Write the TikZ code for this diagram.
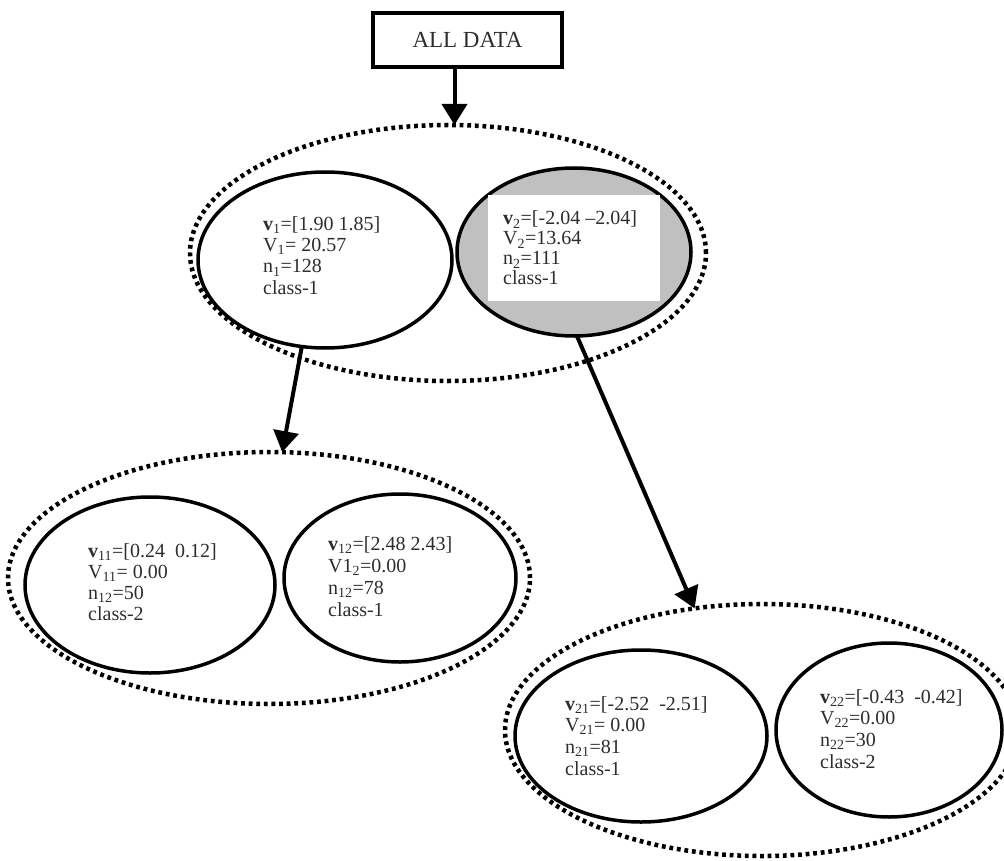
\documentclass[tikz,border=0pt]{standalone}
\usepackage{fontspec}
\setmainfont{Liberation Serif}
\usetikzlibrary{shapes.geometric,arrows.meta}
\definecolor{shade}{RGB}{192,192,192}
\definecolor{ink}{RGB}{45,45,45}
% four-line cluster summary; #1 = line spacing
\newcommand\infolines[2]{\fontsize{20}{#1}\selectfont\begin{tabular}[t]{@{}l@{}}#2\end{tabular}}

\begin{document}
\begin{tikzpicture}[x=1pt,y=-1pt,
  group/.style={ellipse, draw, line width=4.5pt, dash pattern=on 3.8pt off 3.8pt, inner sep=0pt, outer sep=0pt},
  cluster/.style={ellipse, draw, line width=3.5pt, inner sep=0pt, outer sep=0pt},
  info/.style={anchor=base west, inner sep=0pt, text=ink},
  link/.style={line width=4pt, -{Triangle[width=25pt,length=21pt]}}
]
\useasboundingbox (0,0) rectangle (1004,861);
\clip (0,0) rectangle (1004,861);

% root
\node[draw, line width=4pt, minimum width=189pt, minimum height=54pt, inner sep=0pt,
      text=ink, font=\fontsize{23}{26}\selectfont] (all) at (467.5,40) {ALL DATA};

% level 1
\node[group, minimum width=516pt, minimum height=256pt] (outer1) at (448,253) {};
\node[cluster, minimum width=254pt, minimum height=176pt] (c1) at (325,260) {};
\node[cluster, fill=shade, minimum width=234pt, minimum height=168pt] (c2) at (574,252) {};
\node[fill=white, inner sep=0pt, minimum width=172pt, minimum height=106pt] (c2card) at (574,248) {};

% level 2, left branch
\node[group, minimum width=522pt, minimum height=252pt] (outer2) at (269,578) {};
\node[cluster, minimum width=250pt, minimum height=176pt] (c11) at (150,585) {};
\node[cluster, minimum width=232pt, minimum height=168pt] (c12) at (400,578) {};

% level 2, right branch
\node[group, minimum width=514pt, minimum height=252pt] (outer3) at (762,730) {};
\node[cluster, minimum width=252pt, minimum height=172pt] (c21) at (641,736) {};
\node[cluster, minimum width=226pt, minimum height=174pt] (c22) at (889,730) {};

% summaries
\node[info] (t1) at (263,230) {\infolines{21.5pt}{%
  \textbf{v}\textsubscript{1}=[1.90 1.85]\\
  V\textsubscript{1}= 20.57\\
  n\textsubscript{1}=128\\
  class-1}};
\node[info] (t2) at (503,225) {\infolines{20pt}{%
  \textbf{v}\textsubscript{2}=[-2.04 --2.04]\\
  V\textsubscript{2}=13.64\\
  n\textsubscript{2}=111\\
  class-1}};
\node[info] (t11) at (88,557) {\infolines{21pt}{%
  \textbf{v}\textsubscript{11}=[0.24\ \ 0.12]\\
  V\textsubscript{11}= 0.00\\
  n\textsubscript{12}=50\\
  class-2}};
\node[info] (t12) at (328,550) {\infolines{22pt}{%
  \textbf{v}\textsubscript{12}=[2.48 2.43]\\
  V1\textsubscript{2}=0.00\\
  n\textsubscript{12}=78\\
  class-1}};
\node[info] (t21) at (565,710) {\infolines{21.7pt}{%
  \textbf{v}\textsubscript{21}=[-2.52\ \ -2.51]\\
  V\textsubscript{21}= 0.00\\
  n\textsubscript{21}=81\\
  class-1}};
\node[info] (t22) at (820,703) {\infolines{21.7pt}{%
  \textbf{v}\textsubscript{22}=[-0.43\ \ -0.42]\\
  V\textsubscript{22}=0.00\\
  n\textsubscript{22}=30\\
  class-2}};

% connectors
\draw[link] ([xshift=-13pt]all.south) -- ([xshift=-13pt]all.south |- outer1.north);
\draw[link] (c1.-105) -- (outer2.84);
\draw[link] (c2.-88) -- (outer3.119.3);
\end{tikzpicture}
\end{document}
